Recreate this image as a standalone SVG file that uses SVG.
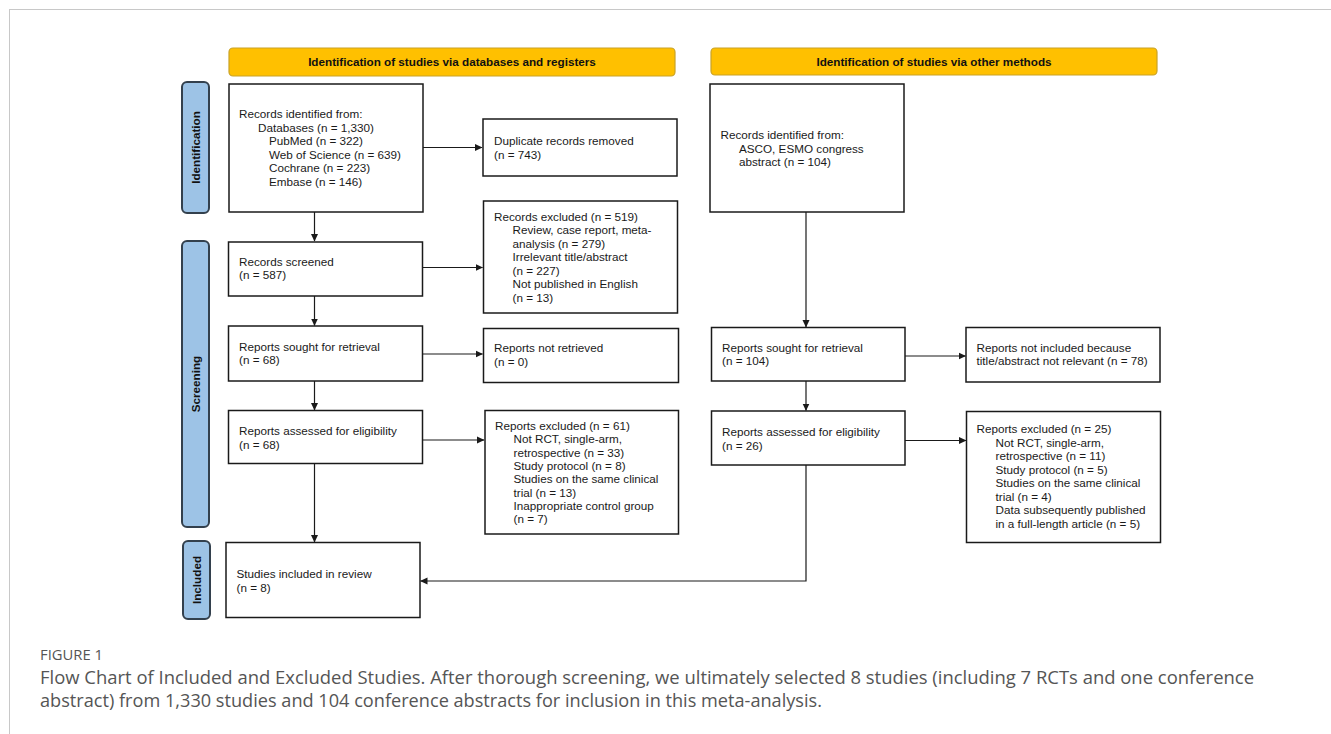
<svg xmlns="http://www.w3.org/2000/svg" width="1331" height="734" viewBox="0 0 1331 734">
<style>
.frame{fill:none;stroke:#c8c8c8;stroke-width:1}
.hdr{fill:#FFC000;stroke:#C9A227;stroke-width:1.2}
.hdrt{font-family:"Liberation Sans",Arial,sans-serif;font-size:11.7px;font-weight:bold;fill:#111;text-anchor:middle}
.side{fill:#9DC3E6;stroke:#33404d;stroke-width:2}
.sidet{font-family:"Liberation Sans",Arial,sans-serif;font-size:11.7px;font-weight:bold;fill:#111;text-anchor:middle}
.box{fill:#fff;stroke:#1a1a1a;stroke-width:1.5}
.t{font-family:"Liberation Sans",Arial,sans-serif;font-size:11.7px;fill:#1a1a1a}
.ln{fill:none;stroke:#1a1a1a;stroke-width:1.2}
.cap{font-family:"Open Sans","Lato",sans-serif;fill:#555}
</style>
<defs>
<marker id="ah" markerWidth="8" markerHeight="8" refX="7" refY="4" orient="auto" markerUnits="userSpaceOnUse">
<path d="M0,0.5 L7.5,4 L0,7.5 Z" fill="#1a1a1a"/>
</marker>
</defs>
<rect class="frame" x="9.5" y="9.5" width="1340" height="740"/>

<g id="hdr-db"><rect class="hdr" x="229" y="48" width="446" height="28" rx="4"/><text class="hdrt" x="452" y="66.2">Identification of studies via databases and registers</text></g>
<g id="hdr-other"><rect class="hdr" x="711" y="48" width="446" height="27" rx="4"/><text class="hdrt" x="934" y="65.8">Identification of studies via other methods</text></g>

<g id="side-identification"><rect class="side" x="182" y="82" width="27" height="131" rx="5"/><text class="sidet" transform="translate(199.7,147.5) rotate(-90)">Identification</text></g>
<g id="side-screening"><rect class="side" x="182" y="241" width="27" height="286" rx="5"/><text class="sidet" transform="translate(199.7,384) rotate(-90)">Screening</text></g>
<g id="side-included"><rect class="side" x="183" y="541" width="27" height="78" rx="5"/><text class="sidet" transform="translate(200.7,580) rotate(-90)">Included</text></g>

<g id="records-identified"><rect class="box" x="229" y="84" width="194" height="128"/>
<text class="t" x="239" y="118.2">Records identified from:</text>
<text class="t" x="258" y="131.7">Databases (n = 1,330)</text>
<text class="t" x="269" y="145.2">PubMed (n = 322)</text>
<text class="t" x="269" y="158.7">Web of Science (n = 639)</text>
<text class="t" x="269" y="172.2">Cochrane (n = 223)</text>
<text class="t" x="269" y="185.7">Embase (n = 146)</text></g>

<g id="duplicates"><rect class="box" x="483" y="119" width="194" height="57"/>
<text class="t" x="494" y="145.2">Duplicate records removed</text>
<text class="t" x="494" y="158.7">(n = 743)</text></g>

<g id="records-screened"><rect class="box" x="228.5" y="242" width="194" height="54"/>
<text class="t" x="239" y="265.7">Records screened</text>
<text class="t" x="239" y="279.2">(n = 587)</text></g>

<g id="records-excluded"><rect class="box" x="483.5" y="201" width="194" height="112"/>
<text class="t" x="494" y="220.7">Records excluded (n = 519)</text>
<text class="t" x="512.5" y="234.2">Review, case report, meta-</text>
<text class="t" x="512.5" y="247.7">analysis (n = 279)</text>
<text class="t" x="512.5" y="261.2">Irrelevant title/abstract</text>
<text class="t" x="512.5" y="274.7">(n = 227)</text>
<text class="t" x="512.5" y="288.2">Not published in English</text>
<text class="t" x="512.5" y="301.7">(n = 13)</text></g>

<g id="sought-db"><rect class="box" x="228.5" y="326" width="194" height="55"/>
<text class="t" x="239" y="350.7">Reports sought for retrieval</text>
<text class="t" x="239" y="364.2">(n = 68)</text></g>

<g id="not-retrieved"><rect class="box" x="483.5" y="328.5" width="195" height="54"/>
<text class="t" x="494" y="352.2">Reports not retrieved</text>
<text class="t" x="494" y="365.7">(n = 0)</text></g>

<g id="assessed-db"><rect class="box" x="228.5" y="410.5" width="194" height="53"/>
<text class="t" x="239" y="435.2">Reports assessed for eligibility</text>
<text class="t" x="239" y="448.7">(n = 68)</text></g>

<g id="excluded-db"><rect class="box" x="485" y="410.5" width="193.5" height="123.5"/>
<text class="t" x="495" y="429.7">Reports excluded (n = 61)</text>
<text class="t" x="513.5" y="443.2">Not RCT, single-arm,</text>
<text class="t" x="513.5" y="456.7">retrospective (n = 33)</text>
<text class="t" x="513.5" y="469.7">Study protocol (n = 8)</text>
<text class="t" x="513.5" y="483.2">Studies on the same clinical</text>
<text class="t" x="513.5" y="496.7">trial (n = 13)</text>
<text class="t" x="513.5" y="509.7">Inappropriate control group</text>
<text class="t" x="513.5" y="523.2">(n = 7)</text></g>

<g id="included"><rect class="box" x="226" y="542.5" width="194" height="75"/>
<text class="t" x="236.5" y="578.2">Studies included in review</text>
<text class="t" x="236.5" y="591.7">(n = 8)</text></g>

<g id="records-other"><rect class="box" x="710" y="84" width="194" height="128"/>
<text class="t" x="720.5" y="139.2">Records identified from:</text>
<text class="t" x="739" y="152.7">ASCO, ESMO congress</text>
<text class="t" x="739" y="166.2">abstract (n = 104)</text></g>

<g id="sought-other"><rect class="box" x="711.5" y="327.5" width="193.5" height="53.5"/>
<text class="t" x="722" y="351.7">Reports sought for retrieval</text>
<text class="t" x="722" y="365.2">(n = 104)</text></g>

<g id="not-included-other"><rect class="box" x="966" y="327.5" width="194" height="54.5"/>
<text class="t" x="976.5" y="351.7">Reports not included because</text>
<text class="t" x="976.5" y="365.2">title/abstract not relevant (n = 78)</text></g>

<g id="assessed-other"><rect class="box" x="711.5" y="411" width="193.5" height="54"/>
<text class="t" x="722" y="436.2">Reports assessed for eligibility</text>
<text class="t" x="722" y="449.7">(n = 26)</text></g>

<g id="excluded-other"><rect class="box" x="966.5" y="411.5" width="194" height="131"/>
<text class="t" x="976.5" y="433.2">Reports excluded (n = 25)</text>
<text class="t" x="995.5" y="446.7">Not RCT, single-arm,</text>
<text class="t" x="995.5" y="460.2">retrospective (n = 11)</text>
<text class="t" x="995.5" y="473.7">Study protocol (n = 5)</text>
<text class="t" x="995.5" y="487.2">Studies on the same clinical</text>
<text class="t" x="995.5" y="500.7">trial (n = 4)</text>
<text class="t" x="995.5" y="514.2">Data subsequently published</text>
<text class="t" x="995.5" y="527.7">in a full-length article (n = 5)</text></g>

<g id="connectors">
<line class="ln" x1="314.5" y1="212" x2="314.5" y2="241" marker-end="url(#ah)"/>
<line class="ln" x1="423" y1="147.5" x2="482" y2="147.5" marker-end="url(#ah)"/>
<line class="ln" x1="422.5" y1="267.5" x2="482.5" y2="267.5" marker-end="url(#ah)"/>
<line class="ln" x1="314.5" y1="296" x2="314.5" y2="325.5" marker-end="url(#ah)"/>
<line class="ln" x1="422.5" y1="354" x2="482.5" y2="354" marker-end="url(#ah)"/>
<line class="ln" x1="314.5" y1="381" x2="314.5" y2="410" marker-end="url(#ah)"/>
<line class="ln" x1="422.5" y1="440" x2="484" y2="440" marker-end="url(#ah)"/>
<line class="ln" x1="314.5" y1="463.5" x2="314.5" y2="542" marker-end="url(#ah)"/>
<line class="ln" x1="806" y1="212" x2="806" y2="327" marker-end="url(#ah)"/>
<line class="ln" x1="905" y1="356" x2="965.5" y2="356" marker-end="url(#ah)"/>
<line class="ln" x1="806" y1="381" x2="806" y2="410.5" marker-end="url(#ah)"/>
<line class="ln" x1="905" y1="440.5" x2="966" y2="440.5" marker-end="url(#ah)"/>
<polyline class="ln" points="806,465 806,581 420.5,581" marker-end="url(#ah)"/>
</g>

<text class="cap" x="40" y="659.5" font-size="15" textLength="63" lengthAdjust="spacingAndGlyphs">FIGURE 1</text>
<text class="cap" x="40" y="683.5" font-size="18" textLength="1214" lengthAdjust="spacingAndGlyphs">Flow Chart of Included and Excluded Studies. After thorough screening, we ultimately selected 8 studies (including 7 RCTs and one conference</text>
<text class="cap" x="40" y="706.5" font-size="18" textLength="782" lengthAdjust="spacingAndGlyphs">abstract) from 1,330 studies and 104 conference abstracts for inclusion in this meta-analysis.</text>
</svg>
